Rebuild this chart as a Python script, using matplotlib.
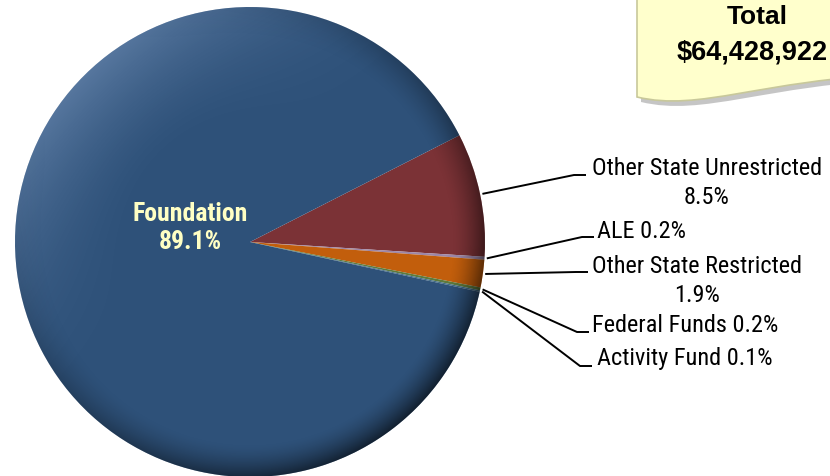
import numpy as np
import matplotlib.pyplot as plt
from matplotlib.patches import Circle, PathPatch
from matplotlib.path import Path

plt.rcParams['font.family'] = ['Roboto Condensed', 'Liberation Sans', 'DejaVu Sans']

# datos del grafico
categorias = ["Other State Unrestricted", "ALE", "Other State Restricted",
              "Federal Funds", "Activity Fund", "Foundation"]
porcentajes = [8.5, 0.2, 1.9, 0.2, 0.1, 89.1]
colores = ["#7B3236", "#9C86A8", "#C25E0C", "#5E7A3C", "#3F6B86", "#2E5179"]
total_txt = "$64,428,922"

W, H = 830, 476
fig = plt.figure(figsize=(W / 100, H / 100), dpi=100)
ax = fig.add_axes([0, 0, 1, 1])

cx, cy, r = 250, H - 242, 235
wedges, _ = ax.pie(porcentajes, colors=colores, startangle=27, counterclock=False,
                   center=(cx, cy), radius=r, wedgeprops=dict(linewidth=0))

# sombreado tipo bisel, luz desde arriba a la izquierda
n = 400
xs = np.linspace(-1, 1, n)
X, Y = np.meshgrid(xs, xs[::-1])
d = np.sqrt(X ** 2 + Y ** 2)
L = np.cos(np.arctan2(Y, X) - np.deg2rad(135))
borde = np.clip((d - 0.86) / 0.14, 0, 1) ** 1.6
ancho = np.clip((d - 0.5) / 0.5, 0, 1) ** 1.5
img_o = np.zeros((n, n, 4))
img_o[..., 3] = borde * 0.6 * ((1 - L) / 2) ** 1.3
img_c = np.ones((n, n, 4))
img_c[..., 0:3] = [0.75, 0.85, 1.0]
img_c[..., 3] = ancho * 0.28 * np.clip(L, 0, 1) ** 2
ext = (cx - r, cx + r, cy - r, cy + r)
for img in (img_c, img_o):
    im = ax.imshow(img, extent=ext, zorder=3, interpolation='bilinear')
    im.set_clip_path(Circle((cx, cy), r, transform=ax.transData))
ax.set_xlim(0, W)
ax.set_ylim(0, H)
ax.set_aspect('equal')
ax.axis('off')

# etiqueta Foundation
ax.text(190, H - 228, "Foundation\n89.1%", ha='center', va='center', fontsize=18.5,
        fontweight='bold', color='#FFFFC4', linespacing=1.25, zorder=5)

# etiquetas con lineas guia
guias = {
    "Other State Unrestricted": (574, H - 175, "Other State Unrestricted\n8.5%", 'center', 707, H - 183),
    "ALE": (582, H - 237, "ALE 0.2%", 'left', 597, H - 231),
    "Other State Restricted": (576, H - 272, "Other State Restricted\n1.9%", 'center', 697, H - 281),
    "Federal Funds": (577, H - 332, "Federal Funds 0.2%", 'left', 592, H - 326),
    "Activity Fund": (580, H - 366, "Activity Fund 0.1%", 'left', 597, H - 359),
}
for w, cat in zip(wedges, categorias):
    if cat not in guias:
        continue
    ex, ey, txt, ha, tx, ty = guias[cat]
    ang = np.deg2rad((w.theta1 + w.theta2) / 2)
    px, py = cx + r * 1.01 * np.cos(ang), cy + r * 1.01 * np.sin(ang)
    ax.plot([px, ex, ex + 12], [py, ey, ey], color='black', lw=1.4, zorder=6,
            solid_capstyle='butt')
    ax.text(tx, ty, txt, ha=ha, va='center', fontsize=17.5, color='black',
            linespacing=1.36, multialignment='center', zorder=6)

# nota amarilla con el total
verts = [(637, H + 10), (637, H - 97), (700, H - 112), (760, H - 80), (900, H - 74),
         (900, H + 10), (637, H + 10)]
codes = [Path.MOVETO, Path.LINETO, Path.CURVE4, Path.CURVE4, Path.CURVE4,
         Path.LINETO, Path.CLOSEPOLY]
sombra = Path([(x + 4, y - 5) for x, y in verts], codes)
ax.add_patch(PathPatch(sombra, facecolor='#808080', edgecolor='none', alpha=0.45, zorder=7))
ax.add_patch(PathPatch(Path(verts, codes), facecolor='#FFFFCC', edgecolor='#C8C89A',
                       lw=1.2, zorder=8))
ax.text(757, H - 17, "Total", ha='center', va='center', fontsize=19,
        fontweight='bold', family=['Liberation Sans'], zorder=9)
ax.text(677, H - 52, total_txt, ha='left', va='center', fontsize=19.5,
        fontweight='bold', family=['Liberation Sans'], zorder=9)

fig.savefig("out.png", dpi=100)
